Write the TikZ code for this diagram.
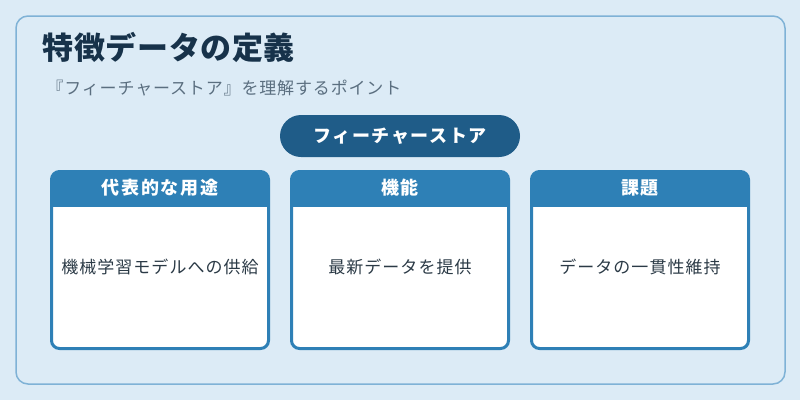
\documentclass[tikz,border=0pt]{standalone}
\usepackage{fontspec}
\usepackage{xcolor}
\usepackage{tikz}
\setmainfont{Noto Sans CJK JP}
\definecolor{pagebg}{HTML}{DCEBF6}
\definecolor{frameline}{HTML}{7FB2D6}
\definecolor{pillblue}{HTML}{1F5C88}
\definecolor{cardblue}{HTML}{2E80B6}
\definecolor{titleink}{HTML}{17324A}
\definecolor{subink}{HTML}{5B6F80}
\definecolor{bodyink}{HTML}{2B3A46}

\tikzset{
  card/.style={draw=cardblue,line width=3pt,fill=white,rounded corners=8pt,
    minimum width=217pt,minimum height=177pt,inner sep=0pt,
    path picture={\fill[cardblue,sharp corners] (path picture bounding box.north west)
      rectangle ([yshift=-35.5pt]path picture bounding box.north east);}},
  cardhead/.style={text=white,font=\fontsize{18}{21}\selectfont\bfseries\addfontfeature{LetterSpace=10}},
  cardbody/.style={text=bodyink,font=\fontsize{17}{20}\selectfont\addfontfeature{LetterSpace=6}}
}

\begin{document}
\begin{tikzpicture}[x=1pt,y=-1pt]
  \useasboundingbox[fill=pagebg] (0,0) rectangle (800,400);
  \draw[frameline,line width=1.5pt,rounded corners=12pt] (16,16) rectangle (785,384);

  \node[anchor=west,text=titleink,font=\fontsize{31}{35}\selectfont\bfseries\addfontfeature{LetterSpace=2}] (title) at (39,47) {特徴データの定義};
  \node[anchor=west,text=subink,font=\fontsize{17}{20}\selectfont\addfontfeature{LetterSpace=5}] (subtitle) at (43,88) {『フィーチャーストア』を理解するポイント};

  \node[fill=pillblue,rounded corners=21pt,minimum width=240pt,minimum height=42pt,
    text=white,font=\fontsize{18}{21}\selectfont\bfseries\addfontfeature{LetterSpace=9}] (store) at (400,136) {フィーチャーストア};

  % three cards
  \node[card] (usecase) at (160,260) {};
  \node[card] (feature) at (400,260) {};
  \node[card] (issue) at (640,260) {};

  \node[cardhead] (usecasehead) at (160,188) {代表的な用途};
  \node[cardhead] (featurehead) at (400,188) {機能};
  \node[cardhead] (issuehead) at (640,188) {課題};

  \node[cardbody] (usecasetext) at (160,267) {機械学習モデルへの供給};
  \node[cardbody] (featuretext) at (400,267) {最新データを提供};
  \node[cardbody] (issuetext) at (640,267) {データの一貫性維持};
\end{tikzpicture}
\end{document}
